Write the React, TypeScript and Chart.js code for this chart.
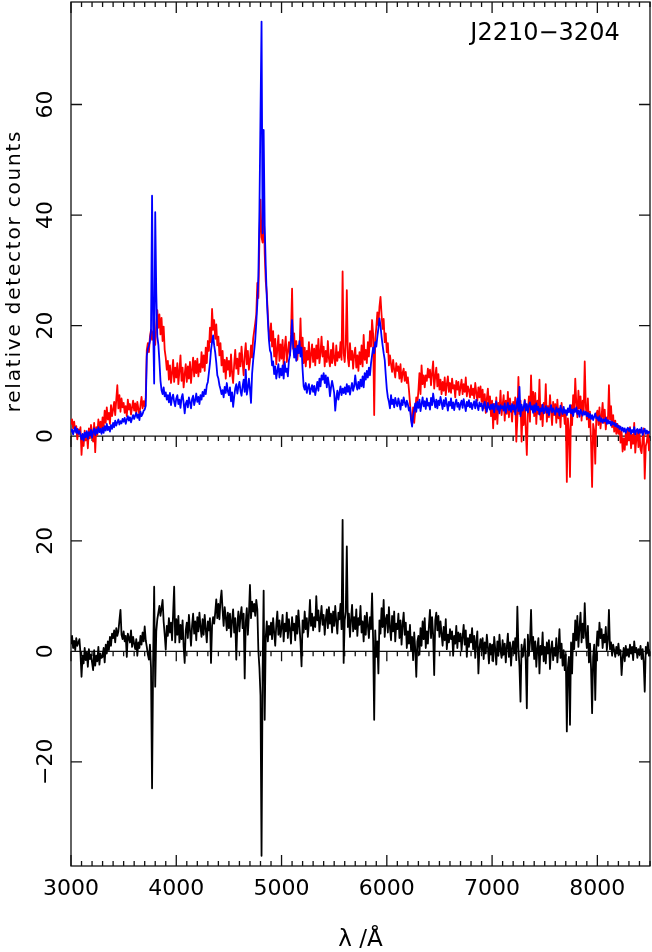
import { useEffect, useRef } from "react";
import { Chart, registerables } from "chart.js";

Chart.register(...registerables);

// ---------- data ----------
const WAVE_START = 3000; // Å
const WAVE_STEP = 10; // Å

// upper panel, blue spectrum (relative detector counts)
const FLUX_BLUE = [
  0.8, 1.2, 0.3, 1.0, 1.6, 0.6, 1.3, 0.4, 0.9, 0.2,
  -0.6, 0.4, -0.8, 0.6, -0.2, 0.9, -0.5, 0.7, 0.1, 1.1,
  -0.3, 0.8, 1.4, 0.2, 1.2, 0.5, 1.6, 0.7, 1.3, 0.4,
  1.5, 0.6, 1.8, 1.0, 2.2, 1.1, 1.7, 0.8, 2.0, 1.3,
  2.4, 1.6, 2.8, 1.9, 2.5, 3.0, 2.1, 2.7, 2.3, 3.1,
  2.6, 3.3, 2.2, 3.0, 3.6, 2.8, 3.4, 2.5, 3.2, 3.8,
  3.1, 3.7, 4.2, 3.3, 3.9, 2.9, 4.4, 3.6, 4.0, 4.6,
  4.8, 5.5, 14.5, 15.8, 16.4, 17.2, 19.0, 43.5, 20.0, 9.5,
  40.5, 26.0, 18.0, 16.5, 13.5, 10.0, 8.3, 7.6, 8.8, 7.2,
  7.9, 6.6, 7.4, 6.1, 7.8, 5.6, 6.9, 7.5, 6.2, 5.4,
  6.8, 7.4, 5.8, 6.6, 5.1, 6.9, 7.6, 6.0, 4.1, 5.9,
  6.4, 5.2, 7.0, 6.1, 5.0, 6.7, 7.3, 5.6, 6.5, 7.7,
  6.2, 7.1, 5.8, 7.4, 6.6, 8.0, 7.2, 8.4, 7.6, 9.2,
  9.8, 11.5, 13.2, 15.6, 17.0, 18.2, 16.4, 15.1, 13.3, 11.0,
  10.4, 9.2, 8.5, 7.6, 8.3, 7.0, 8.9, 7.8, 9.6, 8.1,
  7.4, 8.8, 6.3, 7.9, 5.3, 7.1, 8.6, 9.4, 7.7, 8.9,
  9.8, 8.2, 7.3, 9.0, 10.2, 8.0, 12.0, 7.5, 8.7, 10.4,
  8.5, 6.0, 11.2, 13.6, 15.4, 17.4, 20.5, 24.0, 29.0, 41.0,
  58.0, 75.0, 36.7, 55.4, 38.0, 30.7, 25.0, 21.0, 17.4, 15.5,
  15.0, 12.8, 13.5, 11.2, 12.6, 10.4, 11.8, 13.0, 10.6, 12.2,
  11.0, 12.8, 10.4, 13.4, 11.6, 12.2, 10.8, 13.7, 14.6, 17.0,
  21.0, 16.5, 14.2, 15.8, 13.6, 16.3, 15.0, 17.2, 14.4, 16.0,
  12.0, 9.0, 8.4, 9.6, 7.8, 8.8, 9.4, 7.6, 8.5, 9.2,
  8.0, 9.1, 7.4, 8.6, 9.8, 8.2, 10.4, 9.0, 11.0, 10.2,
  11.4, 9.6, 11.0, 8.8, 10.6, 9.4, 7.2, 8.8, 10.0, 9.0,
  7.8, 4.6, 6.8, 8.2, 6.6, 7.9, 9.0, 7.4, 8.6, 7.8,
  8.8, 7.6, 9.4, 8.0, 9.1, 7.5, 8.7, 9.6, 8.2, 9.0,
  11.0, 9.2, 8.4, 9.8, 8.6, 10.2, 9.0, 10.8, 8.8, 11.4,
  10.2, 11.8, 10.6, 12.4, 11.0, 13.2, 14.6, 16.0, 15.0, 17.0,
  16.2, 18.0, 19.5, 21.3, 20.0, 18.0, 16.4, 15.0, 13.8, 11.0,
  8.5, 7.0, 6.2, 5.0, 7.4, 5.8, 6.6, 5.2, 6.9, 6.0,
  5.4, 6.8, 5.9, 4.8, 6.5, 5.6, 7.0, 6.1, 5.3, 6.4,
  5.8, 4.6, 5.2, 3.0, 1.7, 3.6, 4.8, 5.9, 4.4, 6.2,
  5.1, 6.6, 4.5, 5.8, 7.0, 5.4, 6.3, 4.9, 6.8, 5.5,
  6.0, 4.8, 6.9, 5.6, 7.7, 6.3, 5.2, 6.6, 5.0, 6.4,
  5.6, 7.1, 6.0, 4.9, 6.5, 5.4, 6.9, 5.8, 4.6, 6.2,
  5.5, 6.8, 5.0, 6.1, 4.7, 5.9, 6.6, 5.3, 6.0, 4.8,
  5.8, 6.4, 5.1, 6.7, 5.6, 4.5, 6.2, 5.4, 6.5, 5.2,
  6.0, 4.9, 5.7, 6.3, 5.0, 6.6, 5.5, 4.7, 6.1, 5.4,
  5.9, 4.6, 5.5, 6.2, 5.1, 4.4, 6.0, 5.2, 4.8, 5.7,
  4.9, 5.8, 4.3, 5.5, 6.3, 4.8, 5.4, 4.1, 5.6, 5.0,
  5.4, 4.6, 5.9, 4.2, 5.2, 6.0, 4.7, 5.5, 4.4, 5.8,
  4.8, 5.6, 3.9, 5.3, 6.8, 4.5, 8.9, 3.6, 5.7, 4.6,
  5.2, 6.4, 4.6, 5.8, 4.3, 5.5, 6.1, 4.8, 5.4, 4.2,
  5.6, 4.4, 5.9, 4.7, 5.3, 3.9, 5.0, 4.5, 5.7, 4.1,
  4.8, 5.4, 4.2, 5.1, 3.8, 4.9, 5.6, 4.3, 5.0, 4.5,
  3.9, 5.2, 4.4, 4.9, 3.7, 5.5, 4.6, 4.0, 5.3, 4.2,
  4.7, 3.8, 5.0, 4.3, 5.6, 4.1, 4.8, 3.6, 4.9, 4.4,
  5.2, 4.0, 4.6, 3.5, 4.8, 4.2, 3.7, 4.5, 3.9, 4.4,
  3.6, 4.2, 3.3, 4.0, 3.1, 3.8, 2.9, 3.5, 4.1, 3.2,
  3.4, 2.8, 3.6, 2.6, 3.2, 2.4, 3.0, 2.7, 3.3, 2.2,
  2.9, 2.3, 2.7, 1.9, 2.6, 2.1, 2.4, 1.8, 2.2, 1.6,
  1.9, 1.3, 1.7, 1.0, 1.5, 0.8, 1.4, 0.6, 1.2, 1.5,
  0.9, 1.4, 0.4, 1.1, 0.7, 1.6, 0.3, 1.0, 1.3, 0.5,
  1.2, 0.6, 1.5, 0.2, 0.9, 1.3, 0.4, 1.0, 0.5, 0.8,
  0.6,
];

// upper panel, red spectrum
const FLUX_RED = [
  2.2, 3.0, 1.4, 2.6, 0.8, 1.8, -0.6, 1.2, 0.4, 1.6,
  -3.4, 0.2, -1.8, 1.0, -0.8, 0.6, -2.2, 1.4, -0.4, 2.0,
  0.8, -1.0, 2.4, -2.9, 1.6, 0.2, 3.0, 0.9, 2.6, 1.2,
  3.4, 1.6, 4.6, 2.4, 5.2, 3.0, 4.2, 2.2, 5.6, 3.6,
  4.8, 6.2, 3.8, 6.6, 9.2, 5.0, 7.4, 4.4, 6.8, 5.2,
  6.0, 4.2, 5.4, 3.6, 6.6, 4.8, 5.8, 3.9, 5.2, 6.4,
  4.6, 5.9, 4.0, 6.2, 4.9, 3.8, 5.6, 7.1, 5.0, 6.3,
  5.4, 7.0, 15.6, 16.8, 15.2, 18.0, 19.2, 17.4, 19.0, 18.2,
  16.5, 20.0, 22.8, 19.6, 22.0, 18.4, 21.4, 17.2, 19.8, 15.6,
  14.2, 12.0, 13.6, 10.2, 12.8, 9.6, 11.4, 13.8, 9.8, 12.4,
  10.6, 13.2, 9.4, 11.8, 14.6, 10.0, 12.4, 8.8, 11.2, 13.0,
  9.8, 12.6, 10.4, 13.4, 9.6, 12.0, 14.2, 10.8, 13.6, 11.4,
  14.0, 10.8, 13.0, 11.6, 15.2, 12.4, 14.6, 11.8, 16.0, 13.2,
  17.2, 15.4, 19.6, 17.0, 23.0, 19.2, 21.0, 17.6, 20.2, 16.4,
  18.0, 14.6, 16.8, 12.8, 15.4, 11.6, 13.8, 10.4, 14.2, 12.0,
  13.6, 10.8, 14.8, 11.4, 9.6, 13.0, 15.6, 12.2, 14.0, 11.2,
  15.0, 12.6, 16.2, 13.4, 11.0, 14.6, 16.8, 13.0, 15.4, 12.0,
  13.6, 16.4, 14.2, 17.6, 19.0, 20.4, 22.0, 27.7, 25.0, 36.0,
  42.8, 36.0, 35.0, 42.5, 33.0, 28.0, 25.8, 22.0, 18.6, 17.2,
  20.4, 16.2, 19.0, 14.4, 17.6, 13.0, 15.8, 18.2, 13.6, 16.6,
  14.0, 17.4, 12.8, 16.0, 18.0, 13.4, 15.2, 17.0, 14.6, 18.4,
  26.7, 15.8, 18.6, 14.4, 17.2, 13.8, 16.4, 15.0, 21.3, 14.6,
  17.8, 13.2, 16.0, 12.6, 15.4, 13.8, 17.0, 12.4, 14.8, 16.6,
  13.4, 15.8, 12.8, 16.4, 14.0, 17.6, 13.2, 15.0, 18.0, 14.4,
  16.2, 12.6, 15.4, 13.4, 17.2, 14.0, 12.6, 15.6, 13.2, 16.8,
  14.0, 12.8, 16.4, 13.6, 15.2, 14.2, 17.0, 13.8, 29.8, 15.0,
  13.4, 16.6, 26.4, 14.2, 12.6, 16.8, 13.8, 15.4, 12.2, 14.8,
  16.0, 12.4, 14.6, 11.8, 15.2, 13.0, 16.4, 12.6, 18.3, 13.8,
  15.6, 13.2, 17.0, 14.4, 19.0, 16.2, 21.0, 18.4, 3.8, 17.6,
  19.6, 22.4, 20.0, 23.4, 25.2, 22.0, 19.4, 21.2, 17.0, 18.6,
  15.2, 16.8, 12.8, 14.6, 13.0, 11.6, 13.8, 12.0, 10.6, 13.2,
  11.8, 12.6, 10.4, 13.0, 9.8, 11.4, 12.2, 10.0, 11.6, 9.6,
  10.6, 8.4, 6.0, 3.4, 2.0, 5.2, 2.4, 4.6, 7.0, 5.8,
  8.2, 11.4, 7.6, 12.8, 9.4, 11.0, 8.8, 11.0, 10.0, 12.2,
  10.6, 12.0, 9.2, 11.4, 13.5, 8.6, 10.8, 12.4, 9.0, 11.2,
  8.4, 10.2, 7.6, 9.8, 8.2, 10.6, 7.4, 9.4, 10.8, 8.0,
  9.6, 7.8, 10.4, 8.6, 9.2, 7.0, 10.0, 8.4, 9.8, 7.4,
  8.8, 10.2, 7.6, 9.4, 8.0, 10.6, 7.2, 9.0, 8.4, 7.0,
  9.2, 7.4, 8.6, 6.8, 9.6, 7.8, 6.4, 8.8, 7.0, 9.0,
  6.2, 8.4, 5.0, 7.6, 4.2, 6.8, 8.6, 5.4, 7.2, 3.6,
  6.4, 1.4, 5.8, 3.0, 7.0, 2.2, 6.0, 4.6, 8.2, 3.8,
  5.6, 7.4, 2.8, 6.4, 4.0, 8.0, 3.4, 6.8, 5.0, 2.6,
  6.2, 4.4, 7.0, -1.0, 3.0, 10.7, 4.0, 6.4, -1.0, 4.8,
  2.0, 6.6, 1.2, -3.4, 4.4, 7.2, 2.6, 11.0, 5.0, 8.0,
  3.6, 7.8, 2.2, 6.4, 4.0, 10.2, 3.0, 5.6, 1.8, 6.0,
  4.2, 9.4, 2.6, 5.4, 3.4, 7.4, 4.6, 2.0, 6.2, 3.8,
  5.8, 2.4, 6.6, 3.2, 5.0, 1.6, 6.0, 3.6, 4.8, 2.2,
  4.0, -8.3, 3.2, 1.0, -7.4, 5.6, 2.0, 7.4, 4.4, 10.4,
  6.0, 3.4, 8.2, 5.0, 7.2, 2.8, 6.4, 4.2, 13.5, 5.4,
  3.0, 6.8, 1.6, 4.4, -1.2, -9.2, 2.2, 1.0, -5.0, 3.8,
  4.6, 2.0, 5.2, 1.4, 3.6, 6.0, 2.4, 4.8, 1.2, 3.4,
  2.6, 9.2, 3.0, 5.4, 1.6, 3.8, 0.8, 2.8, 0.4, 2.2,
  0.4, 1.8, -1.2, 0.8, -2.8, -0.4, -2.5, 0.6, -1.6, 1.2,
  -0.8, 1.6, -2.2, 0.2, -1.4, 2.4, -3.0, -0.6, 1.0, -2.0,
  0.6, -2.4, -3.1, -0.4, 1.4, -7.7, -1.8, -1.0, 0.8, -2.6,
  -0.5,
];

// lower panel, residual (black)
const RESIDUAL = [
  1.4, 2.8, 0.6, 1.9, 0.2, 2.4, 1.0, 1.6, 2.2, -0.4,
  -4.6, -0.8, -2.2, 0.6, -1.6, -0.2, -2.8, 0.4, -1.4, -0.6,
  -2.0, -3.4, 0.2, -2.6, -0.8, -1.8, 0.8, -2.4, -0.4, -1.2,
  -1.0, 0.6, -2.0, 1.2, -0.4, 1.8, 0.2, 2.6, 1.0, 3.2,
  2.4, 3.8, 1.6, 4.2, 2.8, 3.6, 5.6, 7.5, 3.0, 2.2,
  3.6, 1.8, 2.8, -1.0, 3.2, 2.4, 1.6, 3.8, 0.8, 2.6,
  1.4, 0.4, 2.2, -0.8, 1.6, 0.6, 2.8, 1.2, 3.4, 1.8,
  4.5, 2.0, 0.8, -0.6, -1.5, 1.2, -3.0, -24.8, -2.0, 11.7,
  -6.4, 3.6, 5.8, 7.0, 8.2, 6.4, 7.8, 9.3, 5.4, 3.0,
  0.3, 4.6, 2.8, 6.0, 3.4, 5.2, 2.0, 6.8, 11.7, 1.6,
  5.8, 3.0, 6.4, 1.6, 4.8, 2.2, 5.6, 0.8, -2.1, 3.8,
  5.2, 2.4, 6.6, 3.8, 1.0, 4.6, 6.8, 3.2, 5.4, 2.0,
  6.2, 3.6, 7.0, 4.4, 2.6, 5.8, 3.0, 6.6, 4.0, 1.6,
  5.4, 3.8, 6.0, -2.1, 4.6, 6.2, 5.0, 7.0, 9.4, 6.0,
  8.6, 5.8, 9.2, 11.0, 7.4, 4.6, 8.0, 6.2, 3.8, 7.0,
  4.2, 6.8, 2.6, 5.6, 7.6, 3.4, 6.0, -1.5, 4.8, 7.2,
  3.6, 6.4, 8.0, 4.2, 6.8, -4.9, 5.2, 7.8, 3.0, 6.6,
  12.0, 6.0, 9.0, 7.2, 8.6, 6.4, 9.3, 7.6, 0.0, -3.0,
  -8.0, -37.0, -4.0, 11.0, -12.4, 2.6, 5.4, 1.8, 4.6, 3.0,
  5.2, 2.2, 6.0, 3.4, 1.0, 4.8, 7.2, 3.0, 5.6, 2.6,
  4.4, 6.6, 1.8, 5.0, 3.6, 7.0, 2.4, 5.8, 4.0, 1.4,
  6.2, 3.8, 5.0, 2.0, 6.4, 3.2, 7.4, 4.6, 1.6, -2.7,
  5.6, 3.4, 7.2, 4.0, 6.0, 2.6, 5.2, 9.3, 4.6, 6.8,
  3.8, 6.2, 4.4, 10.0, 5.6, 7.4, 3.6, 6.0, 8.2, 4.8,
  6.6, 3.0, 5.8, 7.6, 4.2, 8.0, 5.0, 6.8, 3.4, 7.2,
  4.6, 8.2, 5.4, 3.2, 7.0, 5.8, 8.6, 4.0, 23.8, -2.1,
  5.6, 7.2, 19.0, 4.4, 6.8, 2.6, 5.8, 8.4, 3.6, 6.2,
  4.0, 7.6, 2.8, 6.0, 4.8, 8.2, 3.4, 5.4, 1.8, 6.4,
  3.0, 7.0, 4.6, 2.4, 6.2, 4.0, 10.5, 2.0, -12.4, 3.8,
  -1.0, 1.8, -4.0, 5.6, 3.2, 7.8, 4.4, 9.3, 2.6, 5.8,
  6.6, 3.4, 8.0, 4.2, 2.0, 6.4, 3.6, 7.2, 1.8, 5.0,
  4.0, 6.8, 2.4, 5.6, 1.2, 4.8, 7.0, 3.0, 5.2, 0.6,
  3.6, 1.4, 4.8, 0.2, 2.6, -1.6, 3.4, 0.4, -4.6, 1.8,
  2.8, -0.6, 4.2, 1.0, 5.4, 2.2, 6.0, 0.6, 3.6, 1.4,
  4.6, 7.5, 2.4, 6.2, 3.0, -4.3, 5.6, 7.0, 3.8, 6.4,
  2.6, 5.4, 3.2, 1.0, 4.4, 2.0, 5.8, 0.4, 3.0, 1.6,
  4.0, 2.2, 3.6, -0.8, 2.8, 1.4, 4.6, 0.6, 3.4, 1.8,
  3.2, 0.2, 2.6, 4.8, 1.2, 3.8, -1.0, 2.4, 0.8, 3.0,
  1.6, 4.2, 0.4, 2.8, -1.2, 1.8, 3.6, -4.0, 0.6, 2.2,
  0.2, 2.4, -1.4, 1.6, -0.4, 3.0, 0.8, -2.2, 1.4, -0.6,
  1.2, -1.8, 2.6, 0.4, -2.4, 1.8, -0.8, 3.0, 0.2, -1.2,
  2.0, -0.6, 1.4, -2.0, 0.8, 3.2, -1.0, 1.6, -2.6, 0.6,
  1.8, -0.4, 2.4, -1.6, 8.1, 0.6, -2.8, -9.1, 1.2, -1.0,
  0.4, 2.2, -1.8, -10.3, 3.0, -0.8, 1.6, 7.5, 0.2, 2.6,
  -1.4, 1.8, -2.8, 0.6, 2.4, -4.0, 1.0, -0.6, 3.4, -1.8,
  0.8, -2.2, 1.6, -0.4, 2.0, -3.2, 0.4, 1.8, -1.6, 0.6,
  -0.8, 2.4, -2.0, 0.6, 4.0, -1.2, 1.4, -2.6, 0.2, -3.4,
  -0.6, -14.5, -3.0, -1.0, -13.3, 1.6, -4.0, 3.2, 0.4, 5.6,
  2.0, 6.4, 0.8, 4.2, 7.0, 1.6, 5.0, 2.4, 8.7, 3.2,
  0.6, 4.6, -2.0, 1.4, -3.0, -11.2, -1.0, 1.2, -8.8, 0.4,
  3.6, 1.0, 5.2, 2.4, 4.0, 0.6, 3.0, 1.6, 4.4, 0.2,
  2.0, 7.5, 0.4, 1.6, -0.8, 1.2, 0.2, -1.0, 0.8, -0.4,
  1.4, -0.6, 0.2, -4.3, -1.2, 0.6, -1.8, 1.0, -0.8, 0.4,
  -1.0, 1.2, -0.4, 0.8, -1.6, 1.8, -0.2, 0.6, -1.2, 0.4,
  -0.6, 1.0, -1.4, 0.4, -2.0, -7.3, 0.8, -0.4, 1.6, -0.8,
  0.2,
];

const WAVELENGTH = FLUX_BLUE.map((_, i) => WAVE_START + WAVE_STEP * i);

const X_TICKS = [3000, 4000, 5000, 6000, 7000, 8000];
const X_MINOR_STEP = 100;
const TOP_TICKS = [0, 20, 40, 60];
const BOTTOM_TICKS = [-20, 0, 20];

const OBJECT_NAME = "J2210\u22123204";
const X_TITLE = "\u03bb /\u00c5";
const Y_TITLE = "relative detector counts";

// ---------- layout ----------
const W = 652;
const H = 952;
const FONT = "'DejaVu Sans', sans-serif";
const TOP_MIN = -77.8;
const TOP_MAX = 78.55;
const SHIFT = 38.95; // lower panel zero, in upper-panel units below upper zero
const LINE_W = 1.8;

const fmt = (n: number) => (n < 0 ? "\u2212" + Math.abs(n) : String(n));

const framePlugin = {
  id: "pgFrame",
  beforeDatasetsDraw(chart: any) {
    const { ctx, chartArea: a, scales } = chart;
    const xs = scales.x;
    const ys = scales.y;
    const y2 = scales.y2;
    ctx.save();
    ctx.strokeStyle = "#111";
    ctx.lineWidth = 1.3;
    ctx.strokeRect(a.left, a.top, a.right - a.left, a.bottom - a.top);
    const zTop = ys.getPixelForValue(0);
    const zBot = y2.getPixelForValue(0);
    ctx.beginPath();
    ctx.moveTo(a.left, zTop);
    ctx.lineTo(a.right, zTop);
    ctx.moveTo(a.left, zBot);
    ctx.lineTo(a.right, zBot);
    for (let w = X_TICKS[0]; w <= 8500; w += X_MINOR_STEP) {
      const px = xs.getPixelForValue(w);
      const major = X_TICKS.includes(w);
      const len = major ? 11 : 5;
      ctx.moveTo(px, a.top);
      ctx.lineTo(px, a.top + len);
      ctx.moveTo(px, zTop);
      ctx.lineTo(px, zTop + len);
      ctx.moveTo(px, zBot);
      ctx.lineTo(px, zBot + (major ? 10 : 5));
      ctx.moveTo(px, a.bottom);
      ctx.lineTo(px, a.bottom - len);
    }
    const tickYs = [
      ...TOP_TICKS.map((v) => ys.getPixelForValue(v)),
      ...BOTTOM_TICKS.map((v) => y2.getPixelForValue(v)),
    ];
    tickYs.forEach((py) => {
      ctx.moveTo(a.left, py);
      ctx.lineTo(a.left + 11, py);
      ctx.moveTo(a.right, py);
      ctx.lineTo(a.right - 11, py);
    });
    ctx.stroke();
    ctx.restore();
  },
  afterDraw(chart: any) {
    const { ctx, scales } = chart;
    ctx.save();
    ctx.fillStyle = "#000";
    // y title, centred on the upper panel's data region
    const cy = (scales.y.getPixelForValue(TOP_MAX) + scales.y.getPixelForValue(0)) / 2 + 52;
    ctx.translate(20, cy);
    ctx.rotate(-Math.PI / 2);
    ctx.font = `20px ${FONT}`;
    (ctx as any).letterSpacing = "1.8px";
    ctx.textAlign = "center";
    ctx.textBaseline = "alphabetic";
    ctx.fillText(Y_TITLE, 0, 0);
    ctx.restore();

    ctx.save();
    ctx.fillStyle = "#000";
    ctx.font = `24px ${FONT}`;
    ctx.textAlign = "center";
    ctx.textBaseline = "alphabetic";
    ctx.fillText(OBJECT_NAME, 545, 40);
    ctx.restore();
  },
};

export default function App() {
  const ref = useRef<HTMLCanvasElement>(null);
  useEffect(() => {
    document.body.style.margin = "0";
    const canvas = ref.current;
    if (!canvas) return;
    const toPts = (arr: number[]) => WAVELENGTH.map((x, i) => ({ x, y: arr[i] }));
    const chart = new Chart(canvas, {
      type: "line",
      data: {
        datasets: [
          { label: "blue", data: toPts(FLUX_BLUE), borderColor: "#0000ff", borderWidth: LINE_W, yAxisID: "y" },
          { label: "red", data: toPts(FLUX_RED), borderColor: "#ff0000", borderWidth: LINE_W, yAxisID: "y" },
          { label: "residual", data: toPts(RESIDUAL), borderColor: "#000000", borderWidth: LINE_W, yAxisID: "y2" },
        ],
      },
      options: {
        animation: false,
        responsive: false,
        devicePixelRatio: 1,
        events: [],
        layout: { padding: { top: 2, right: 2, left: 0, bottom: 0 } },
        plugins: {
          legend: { display: false },
          tooltip: { enabled: false },
          title: { display: false },
        },
        elements: {
          point: { radius: 0 },
          line: { tension: 0, borderJoinStyle: "round", borderCapStyle: "round", fill: false },
        },
        scales: {
          x: {
            type: "linear",
            position: "bottom",
            min: 3000,
            max: 8500,
            afterBuildTicks: (s: any) => {
              s.ticks = X_TICKS.map((v) => ({ value: v }));
            },
            afterFit: (s: any) => {
              s.height = 86;
              s.paddingLeft = 0;
              s.paddingRight = 0;
            },
            grid: { display: false, drawTicks: false },
            border: { display: false },
            ticks: {
              autoSkip: false,
              maxRotation: 0,
              minRotation: 0,
              padding: 10,
              color: "#000",
              font: { family: FONT, size: 22 },
              callback: (v: any) => String(v),
            },
            title: {
              display: true,
              text: X_TITLE,
              color: "#000",
              font: { family: FONT, size: 23, lineHeight: 1 },
              padding: { top: 0, bottom: 0 },
            },
          },
          y: {
            type: "linear",
            position: "left",
            min: TOP_MIN,
            max: TOP_MAX,
            afterBuildTicks: (s: any) => {
              s.ticks = [
                ...BOTTOM_TICKS.map((v) => ({ value: v - SHIFT })),
                ...TOP_TICKS.map((v) => ({ value: v })),
              ];
            },
            afterFit: (s: any) => {
              s.width = 71;
              s.paddingTop = 0;
              s.paddingBottom = 0;
            },
            grid: { display: false, drawTicks: false },
            border: { display: false },
            ticks: {
              autoSkip: false,
              minRotation: 90,
              maxRotation: 90,
              crossAlign: "center",
              padding: 2,
              color: "#000",
              font: { family: FONT, size: 22 },
              callback: (value: any) => {
                const v = Number(value);
                if (v > -5) return fmt(Math.round(v));
                return fmt(Math.round(v + SHIFT));
              },
            },
          },
          y2: {
            type: "linear",
            display: false,
            min: TOP_MIN + SHIFT,
            max: TOP_MAX + SHIFT,
          },
        },
      },
      plugins: [framePlugin],
    } as any);
    return () => chart.destroy();
  }, []);
  return (
    <div style={{ width: W, height: H }}>
      <canvas ref={ref} width={W} height={H} style={{ display: "block" }} />
    </div>
  );
}
